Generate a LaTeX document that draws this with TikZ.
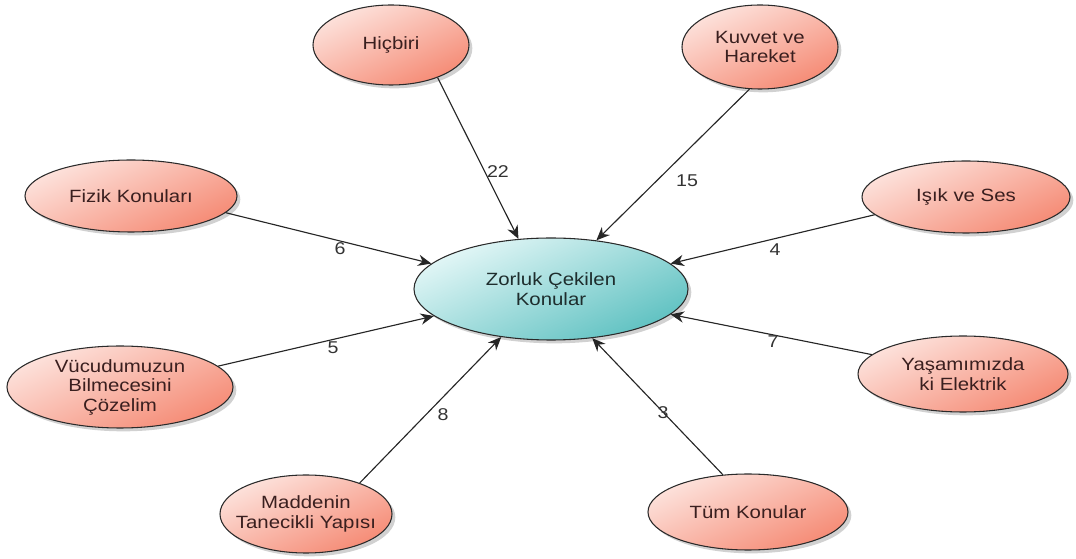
\documentclass[tikz,border=0pt]{standalone}
\usepackage{fontspec}
\setmainfont{Liberation Sans}[FakeStretch=1.15]
\usetikzlibrary{shapes.geometric,arrows.meta,shadows}

\definecolor{topicLight}{HTML}{FDE3DD}
\definecolor{topicDark}{HTML}{F58A74}
\definecolor{hubLight}{HTML}{E4F7F7}
\definecolor{hubDark}{HTML}{5EC1C1}
\definecolor{topicText}{HTML}{3A1F1F}
\definecolor{hubText}{HTML}{1E2D2D}
\definecolor{rimColor}{HTML}{2A2A2A}

\tikzset{
  bubble/.style={ellipse, draw=rimColor, line width=0.8pt, inner sep=-14pt,
    align=center, font=\fontsize{13.3}{14.6}\selectfont,
    drop shadow={shadow xshift=2.5pt, shadow yshift=-2.5pt, opacity=0.18, fill=black}},
  topic/.style={bubble, text=topicText, top color=topicLight, bottom color=topicDark,
    shading angle=25},
  hub/.style={bubble, text=hubText, top color=hubLight, bottom color=hubDark,
    shading angle=25},
  link/.style={draw=black!85, line width=0.85pt, -{Stealth[length=10pt,width=8.5pt]}},
  count/.style={font=\fontsize{12.8}{14}\selectfont, text=black!80, inner sep=1pt}
}

\begin{document}
\begin{tikzpicture}[x=0.75pt,y=-0.75pt]
  \useasboundingbox (0,0) rectangle (1076,559);

  % central topic
  \node[hub, minimum width=274*0.75pt, minimum height=102*0.75pt] (zc) at (551,289)
    {Zorluk Çekilen\\Konular};

  % surrounding topics
  \node[topic, minimum width=156*0.75pt, minimum height=80*0.75pt] (hic) at (391,45) {Hiçbiri};
  \node[topic, minimum width=156*0.75pt, minimum height=84*0.75pt] (kuv) at (760,47) {Kuvvet ve\\Hareket};
  \node[topic, minimum width=212*0.75pt, minimum height=72*0.75pt] (fiz) at (131,196) {Fizik Konuları};
  \node[topic, minimum width=208*0.75pt, minimum height=72*0.75pt] (isik) at (966,197) {Işık ve Ses};
  \node[topic, minimum width=226*0.75pt, minimum height=82*0.75pt] (vuc) at (120,387) {Vücudumuzun\\Bilmecesini\\Çözelim};
  \node[topic, minimum width=210*0.75pt, minimum height=76*0.75pt] (yas) at (963,374) {Yaşamımızda\\ki Elektrik};
  \node[topic, minimum width=172*0.75pt, minimum height=78*0.75pt] (mad) at (306,514) {Maddenin\\Tanecikli Yapısı};
  \node[topic, minimum width=200*0.75pt, minimum height=76*0.75pt] (tum) at (748,512) {Tüm Konular};

  % connectors into the central topic
  \draw[link] (hic.-35)  -- (zc.123);
  \draw[link] (kuv.256)  -- (zc.47);
  \draw[link] (isik.191) -- (zc.12.5);
  \draw[link] (fiz.-10)  -- (zc.168);
  \draw[link] (vuc.12)   -- (zc.193);
  \draw[link] (mad.30)   -- (zc.224);
  \draw[link] (tum.124)  -- (zc.-50);
  \draw[link] (yas.168)  -- (zc.-12.6);

  % counts
  \node[count] (c22) at (498,172) {22};
  \node[count] (c15) at (687,181) {15};
  \node[count] (c4)  at (775,250) {4};
  \node[count] (c6)  at (340,249) {6};
  \node[count] (c5)  at (333,348) {5};
  \node[count] (c7)  at (773,342) {7};
  \node[count] (c3)  at (663,413) {3};
  \node[count] (c8)  at (443,415) {8};
\end{tikzpicture}
\end{document}
